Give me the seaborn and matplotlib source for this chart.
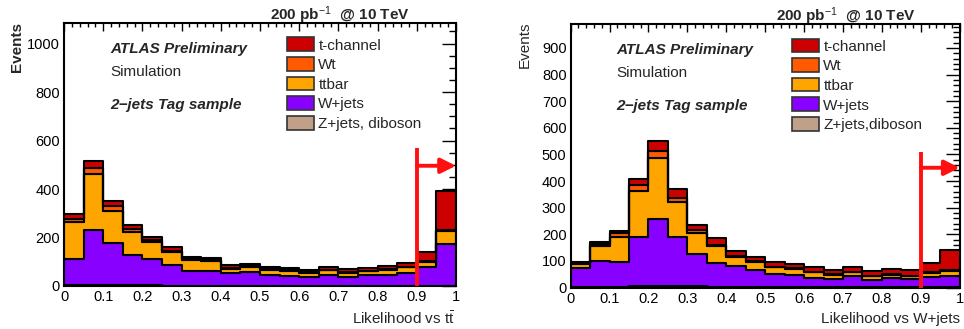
import numpy as np
import pandas as pd
import seaborn as sns
import matplotlib.pyplot as plt
from matplotlib.patches import Patch
from matplotlib.ticker import MultipleLocator

sns.set_style("white")
plt.rcParams['font.family'] = ['Liberation Sans', 'DejaVu Sans']
plt.rcParams['mathtext.fontset'] = 'custom'
plt.rcParams['mathtext.rm'] = 'Liberation Sans'
plt.rcParams['mathtext.bf'] = 'Liberation Sans:bold'
plt.rcParams['mathtext.it'] = 'Liberation Sans:italic'

# 20 bins of 0.05 in the likelihood
edges = [round(0.05 * k, 2) for k in range(21)]
centers = [(a + b) / 2 for a, b in zip(edges[:-1], edges[1:])]

samples = ["t-channel", "Wt", "ttbar", "W+jets", "Z+jets, diboson"]
colors = ["#cc0000", "#ff5a00", "#ffa500", "#8800ff", "#c0a088"]

# left: likelihood vs ttbar
tt_tch = [20, 29, 20, 18, 13, 16, 8, 9, 10, 10, 9, 8, 10, 9, 11, 10, 12, 15, 37, 161]
tt_wt = [14, 25, 19, 12, 5, 5, 3, 3, 3, 3, 3, 3, 3, 3, 3, 3, 3, 3, 3, 4]
tt_ttbar = [151, 232, 135, 95, 73, 54, 44, 42, 20, 21, 21, 21, 17, 21, 17, 16, 22, 22, 23, 55]
tt_wjets = [107, 226, 172, 125, 107, 85, 61, 61, 50, 56, 43, 39, 35, 43, 37, 43, 44, 54, 77, 170]
tt_zjets = [5, 5, 4, 3, 3, 2, 2, 2, 2, 2, 2, 2, 1, 1, 1, 1, 1, 1, 1, 2]

# right: likelihood vs W+jets
wj_tch = [4, 8, 9, 24, 38, 33, 19, 25, 18, 18, 18, 16, 18, 15, 18, 17, 17, 20, 34, 75]
wj_wt = [3, 6, 14, 21, 27, 16, 11, 3, 2, 2, 2, 2, 2, 2, 2, 2, 2, 2, 2, 2]
wj_ttbar = [15, 59, 95, 175, 231, 130, 80, 64, 35, 30, 26, 24, 21, 16, 13, 15, 12, 12, 14, 19]
wj_wjets = [72, 96, 93, 185, 250, 185, 121, 90, 79, 64, 48, 45, 36, 31, 44, 27, 36, 30, 40, 44]
wj_zjets = [2, 2, 3, 4, 6, 5, 4, 3, 2, 2, 2, 1, 1, 1, 1, 1, 1, 1, 1, 1]

cut = 0.9
cut_top = [569, 508]
arrow_y = [496, 450]


def make_df(parts):
    rows = []
    for name, vals in zip(samples, parts):
        for c, v in zip(centers, vals):
            rows.append({"x": c, "w": v, "sample": name})
    return pd.DataFrame(rows)


panels = [
    dict(df=make_df([tt_tch, tt_wt, tt_ttbar, tt_wjets, tt_zjets]),
         rect=[0.0664, 0.1307, 0.4066, 0.7994], ymax=1085, major=200, minor=50,
         xlabel=r"Likelihood vs t$\bar{\mathrm{t}}$", legend_last="Z+jets, diboson",
         ylab_x=17, ylab_w="bold", lumi_x=340, lumi_y=15),
    dict(df=make_df([wj_tch, wj_wt, wj_ttbar, wj_wjets, wj_zjets]),
         rect=[0.592, 0.126, 0.4035, 0.801], ymax=990, major=100, minor=20,
         xlabel="Likelihood vs W+jets", legend_last="Z+jets,diboson",
         ylab_x=525, ylab_w="normal", lumi_x=846, lumi_y=16),
]

fig = plt.figure(figsize=(9.64, 3.29), dpi=100)
W, H = 964, 329

for i, p in enumerate(panels):
    ax = fig.add_axes(p["rect"])
    sns.histplot(data=p["df"], x="x", weights="w", hue="sample", hue_order=samples,
                 palette=colors, bins=edges, multiple="stack", element="step",
                 alpha=1, edgecolor="black", linewidth=1.5, legend=False, ax=ax)
    ax.set_xlim(0, 1)
    ax.set_ylim(0, p["ymax"])
    ax.xaxis.set_major_locator(MultipleLocator(0.1))
    ax.xaxis.set_minor_locator(MultipleLocator(0.02))
    ax.yaxis.set_major_locator(MultipleLocator(p["major"]))
    ax.yaxis.set_minor_locator(MultipleLocator(p["minor"]))
    ax.xaxis.set_major_formatter(plt.FuncFormatter(lambda v, _: f"{v:g}"))
    ax.tick_params(which="both", direction="in", top=True, right=True,
                   labelsize=10.5, width=1, colors="black")
    ax.tick_params(axis="x", which="major", length=6, pad=3)
    ax.tick_params(axis="x", which="minor", length=3)
    ax.tick_params(axis="y", which="major", length=10, pad=3)
    ax.tick_params(axis="y", which="minor", length=5)
    for s in ax.spines.values():
        s.set_linewidth(1.5)
        s.set_color("black")
    ax.set_xlabel("")
    ax.set_ylabel("")

    # cut line and arrow
    ax.plot([cut, cut], [0, cut_top[i]], color="#ff1010", lw=2.8, zorder=10,
            solid_capstyle="butt")
    ax.annotate("", xy=(1.0, arrow_y[i]), xytext=(cut, arrow_y[i]),
                arrowprops=dict(arrowstyle="-|>,head_length=0.9,head_width=0.45",
                                color="#ff1010", lw=2.8, shrinkA=0, shrinkB=0),
                zorder=11)

    ax.text(0.117, 0.90, "ATLAS Preliminary", transform=ax.transAxes, fontsize=11,
            fontweight="bold", fontstyle="italic", va="center")
    ax.text(0.117, 0.815, "Simulation", transform=ax.transAxes, fontsize=11, va="center")
    ax.text(0.117, 0.69, "2\u2212jets Tag sample", transform=ax.transAxes, fontsize=11,
            fontweight="bold", fontstyle="italic", va="center")

    labels = samples[:-1] + [p["legend_last"]]
    handles = [Patch(facecolor=c, edgecolor="#333333", linewidth=1.2) for c in colors]
    ax.legend(handles, labels, loc="upper left", bbox_to_anchor=(0.569, 0.945),
              frameon=False, fontsize=11, handlelength=1.75, handleheight=1.0,
              labelspacing=0.3, handletextpad=0.3, borderpad=0, borderaxespad=0)

    fig.text(p["lumi_x"] / W, 1 - p["lumi_y"] / H, r"200 pb$^{-1}$  @ 10 TeV",
             fontsize=11, fontweight="bold", ha="center", va="center")
    fig.text(p["ylab_x"] / W, 1 - 22 / H, "Events", rotation=90, fontsize=11,
             fontweight=p["ylab_w"], ha="center", va="top")
    right = (p["rect"][0] + p["rect"][2])
    fig.text(right, 1 - 319 / H, p["xlabel"], fontsize=11, ha="right", va="center")

plt.savefig("out.png", dpi=100)
